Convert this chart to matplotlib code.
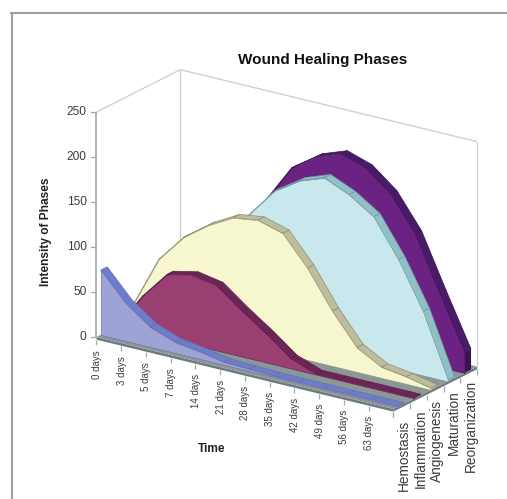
import numpy as np
import matplotlib
matplotlib.use("Agg")
import matplotlib.pyplot as plt
from matplotlib.lines import Line2D
from mpl_toolkits.mplot3d import proj3d
from mpl_toolkits.mplot3d.art3d import Poly3DCollection

plt.rcParams['font.family'] = ['Liberation Sans', 'DejaVu Sans']

# ---- data -------------------------------------------------------------
time_labels = ['0 days', '3 days', '5 days', '7 days', '14 days', '21 days', '28 days',
               '35 days', '42 days', '49 days', '56 days', '63 days', '']
phases = ['Hemostasis', 'Inflammation', 'Angiogenesis', 'Maturation', 'Reorganization']
hemostasis = [72, 42, 22, 12, 8, 3, 2, 1, 1, 1, 1, 1, 1]
inflammation = [0, 40, 71, 77, 72, 51, 32, 11, 1, 1, 1, 1, 1]
angiogenesis = [17, 72, 103, 123, 138, 142, 134, 102, 61, 27, 12, 8, 2]
maturation = [0, 25, 60, 100, 133, 165, 183, 193, 181, 163, 122, 71, 2]
reorganization = [5, 25, 50, 85, 140, 181, 200, 210, 201, 179, 141, 81, 23]
z_ticks = [0, 50, 100, 150, 200, 250]

series = [hemostasis, inflammation, angiogenesis, maturation, reorganization]
front_colors = ['#9ea3d6', '#9a3f72', '#f6f6cf', '#c9e8ee', '#6c2283']
top_colors = ['#6e7dcb', '#6d2558', '#bdbd9e', '#90c0c6', '#481a68']
cap_colors = ['#5f6dbb', '#5c1f4a', '#a8a88c', '#7fb0b6', '#3a1455']
edge_colors = ['#6a6fa8', '#5c1f4a', '#8f8f70', '#6f9aa0', '#3a1455']

W, H = 507, 499
fig = plt.figure(figsize=(W / 100, H / 100), dpi=100, facecolor='white')
ax = fig.add_axes([0, 0, 1, 1], projection='3d', proj_type='ortho', computed_zorder=False)
ax.set_axis_off()
n_x, n_y = len(time_labels) - 1, len(phases)
ax.set_xlim(0, n_x)
ax.set_ylim(0, n_y)
ax.set_zlim(0, z_ticks[-1])
ax.view_init(elev=20.5, azim=-55.3)
aspect = (358.0, 146.0, 238.2)
ax.set_box_aspect(aspect, zoom=1.0)


def pixel(x, y, z):
    ax.apply_aspect()
    px, py, _ = proj3d.proj_transform(x, y, z, ax.get_proj())
    return ax.transData.transform((px, py))


# fit the box: front-left floor corner and front-right floor corner, in pixels
target_a = np.array([96.5, H - 337.0])
target_b = np.array([393.5, H - 408.0])
a, b = pixel(0, 0, 0), pixel(n_x, 0, 0)
ax.set_box_aspect(aspect, zoom=np.linalg.norm(target_b - target_a) / np.linalg.norm(b - a))
a = pixel(0, 0, 0)
ax.set_position([(target_a[0] - a[0]) / W, (target_a[1] - a[1]) / H, 1, 1])

xs = np.arange(n_x + 1)
line = '#d0d0d0'


def seg(x, y, z, color, lw=1.0, zo=1):
    ax.plot(x, y, z, color=color, lw=lw, zorder=zo, clip_on=False, solid_capstyle='butt')


# walls
seg([0, 0], [n_y, n_y], [0, 250], line, 1.0)
seg([0, 0], [0, n_y], [250, 250], line, 1.0)
seg([0, n_x], [n_y, n_y], [250, 250], line, 1.0)
seg([n_x, n_x], [n_y, n_y], [0, 250], line, 1.0)
seg([0, 0], [0, 0], [0, 250], '#b4b4b4', 1.4)

# floor slab
thick = -3.0
floor_side = [[(0, 0, 0), (n_x, 0, 0), (n_x, 0, thick), (0, 0, thick)],
              [(n_x, 0, 0), (n_x, n_y, 0), (n_x, n_y, thick), (n_x, 0, thick)]]
ax.add_collection3d(Poly3DCollection(floor_side, facecolors=['#6f7a80', '#6f7a80'],
                                     edgecolors='none', zorder=2))
ax.add_collection3d(Poly3DCollection([[(0, 0, 0), (n_x, 0, 0), (n_x, n_y, 0), (0, n_y, 0)]],
                                     facecolors='#8b9797', edgecolors='none', zorder=3))

# ribbons, back to front
d0, d1 = 0.25, 0.64
for k in range(n_y - 1, -1, -1):
    v = np.asarray(series[k], float)
    yf, yb = k + d0, k + d1
    zo = 10 + (n_y - k) * 3
    tops = [[(xs[i], yf, v[i]), (xs[i + 1], yf, v[i + 1]), (xs[i + 1], yb, v[i + 1]), (xs[i], yb, v[i])]
            for i in range(n_x)]
    ax.add_collection3d(Poly3DCollection(tops, facecolors=top_colors[k], edgecolors=edge_colors[k],
                                         linewidths=0.5, zorder=zo))
    cap = [(n_x, yf, 0), (n_x, yb, 0), (n_x, yb, v[-1]), (n_x, yf, v[-1])]
    ax.add_collection3d(Poly3DCollection([cap], facecolors=cap_colors[k], edgecolors='none', zorder=zo + 1))
    face = [(xs[i], yf, v[i]) for i in range(n_x + 1)] + [(n_x, yf, 0), (0, yf, 0)]
    ax.add_collection3d(Poly3DCollection([face], facecolors=front_colors[k], edgecolors=edge_colors[k],
                                         linewidths=0.4, zorder=zo + 2))

# ticks and tick labels
tick_c = '#a8a8a8'
txt_c = '#3c3c3c'
for z in z_ticks:
    p = pixel(0, 0, z)
    fig.add_artist(Line2D([(p[0] - 5) / W, p[0] / W], [p[1] / H] * 2, color=tick_c, lw=0.9))
    fig.text((p[0] - 10) / W, p[1] / H, str(z), ha='right', va='center', fontsize=8.6, color=txt_c)
for i, lab in enumerate(time_labels):
    seg([i, i], [0, 0], [thick, -9], tick_c, 0.9, 40)
    if lab:
        p = pixel(i, 0, 0)
        fig.text((p[0] + 0.5) / W, (p[1] - 13) / H, lab, rotation=90, ha='center', va='top', fontsize=7.0,
                 color=txt_c)
for j in range(n_y + 1):
    seg([n_x, n_x], [j, j], [thick, -9], tick_c, 0.9, 40)
for j, lab in enumerate(phases):
    p = pixel(n_x, j + 0.5, 0)
    fig.text((p[0] + 2) / W, (p[1] - 9 - (n_y - 1 - j) * 1.5) / H, lab, rotation=90, ha='center', va='top',
             fontsize=9.8, color=txt_c)

# titles
fig.text(322.5 / W, 1 - 60 / H, 'Wound Healing Phases', ha='center', va='center', fontsize=11,
         fontweight='bold', color='#111111')
fig.text(46 / W, 1 - 232 / H, 'Intensity of Phases', rotation=90, ha='center', va='center', fontsize=8.6,
         fontweight='bold', color='#222222')
fig.text(212 / W, 1 - 449 / H, 'Time', ha='center', va='center', fontsize=8.6, fontweight='bold', color='#222222')

# outer frame
fig.add_artist(Line2D([11.5 / W, 11.5 / W], [0, 1 - 13 / H], color='#a0a0a0', lw=1.5))
fig.add_artist(Line2D([11 / W, 1], [1 - 13 / H] * 2, color='#a0a0a0', lw=1.5))

fig.savefig('out.png', dpi=100)
